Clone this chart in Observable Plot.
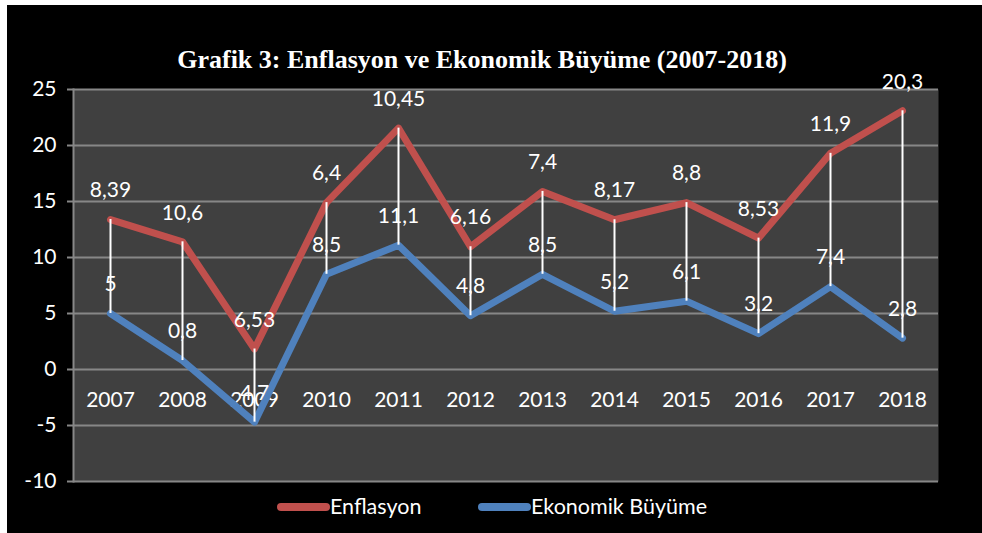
<!DOCTYPE html>
<html><head><meta charset="utf-8">
<script src="https://cdn.jsdelivr.net/npm/d3@7"></script>
<script src="https://cdn.jsdelivr.net/npm/@observablehq/plot@0.6"></script>
<style>
html,body{margin:0;padding:0;background:#fff;}
#chart{position:absolute;left:7px;top:5px;}
</style></head><body><div id="chart"></div>
<script>
const years = [2007, 2008, 2009, 2010, 2011, 2012, 2013, 2014, 2015, 2016, 2017, 2018];
const inflation = [8.39, 10.6, 6.53, 6.4, 10.45, 6.16, 7.4, 8.17, 8.8, 8.53, 11.9, 20.3];
const growth = [5, 0.8, -4.7, 8.5, 11.1, 4.8, 8.5, 5.2, 6.1, 3.2, 7.4, 2.8];
const inflationLabels = ["8,39", "10,6", "6,53", "6,4", "10,45", "6,16", "7,4", "8,17", "8,8", "8,53", "11,9", "20,3"];
const growthLabels = ["5", "0,8", "4,7", "8,5", "11,1", "4,8", "8,5", "5,2", "6,1", "3,2", "7,4", "2,8"];
const yTicks = [-10, -5, 0, 5, 10, 15, 20, 25];
const seriesNames = ["Enflasyon", "Ekonomik Büyüme"];
const colors = ["#C0504D", "#4F81BD"];
const title = "Grafik 3: Enflasyon ve Ekonomik Büyüme (2007-2018)";

const data = years.map((y, i) => ({
  year: String(y), g: growth[i], inf: inflation[i], total: growth[i] + inflation[i],
  gl: growthLabels[i], il: inflationLabels[i]
}));

const grid = "#878787";
const font = "Lato, 'Open Sans', sans-serif";

const plot = Plot.plot({
  width: 975, height: 528,
  marginLeft: 66, marginRight: 44, marginTop: 84, marginBottom: 52,
  style: {background: "#000", color: "#fff", fontFamily: font, fontSize: "21px", overflow: "visible"},
  x: {type: "band", domain: years.map(String), padding: 0, axis: null},
  y: {domain: [-10, 25], axis: null},
  marks: [
    Plot.frame({fill: "#404040", stroke: null}),
    Plot.ruleY(yTicks, {stroke: grid, strokeWidth: 2}),
    Plot.frame({anchor: "left", stroke: grid, strokeWidth: 2}),
    Plot.axisY({ticks: yTicks, tickSize: 6, tickPadding: 11, stroke: grid, strokeWidth: 2, fill: "#fff", fontSize: 21, label: null, tickFormat: d => String(d)}),
    Plot.text(data, {x: "year", y: () => 0, text: "year", dy: 31, fill: "#fff", fontSize: 21}),
    Plot.line(data, {x: "year", y: "total", stroke: colors[0], strokeWidth: 7, strokeLinecap: "round", strokeLinejoin: "round"}),
    Plot.line(data, {x: "year", y: "g", stroke: colors[1], strokeWidth: 7, strokeLinecap: "round", strokeLinejoin: "round"}),
    Plot.ruleX(data, {x: "year", y1: "g", y2: "total", stroke: "#fff", strokeWidth: 2}),
    Plot.text(data, {x: "year", y: "total", text: "il", dy: -29, fill: "#fff", fontSize: 21}),
    Plot.text(data, {x: "year", y: "g", text: "gl", dy: -29, fill: "#fff", fontSize: 21}),
    Plot.text([title], {frameAnchor: "top", dy: -40, dx: -24, fill: "#fff", fontFamily: "'Liberation Serif', 'Times New Roman', serif", fontWeight: "bold", fontSize: 26})
  ]
});

const svg = d3.select(plot);
const legendY = 502;
const legend = [
  {name: seriesNames[0], color: colors[0], x0: 274, x1: 319, tx: 323},
  {name: seriesNames[1], color: colors[1], x0: 475, x1: 520, tx: 524}
];
const lg = svg.append("g").attr("text-anchor", "start");
legend.forEach(d => {
  lg.append("line").attr("x1", d.x0).attr("x2", d.x1).attr("y1", legendY).attr("y2", legendY)
    .attr("stroke", d.color).attr("stroke-width", 8).attr("stroke-linecap", "round");
  lg.append("text").attr("x", d.tx).attr("y", legendY).attr("dy", "0.32em")
    .attr("text-anchor", "start")
    .attr("fill", "#fff").attr("font-family", font).attr("font-size", 21.5).text(d.name);
});

document.getElementById("chart").appendChild(plot);
</script>
</body></html>
